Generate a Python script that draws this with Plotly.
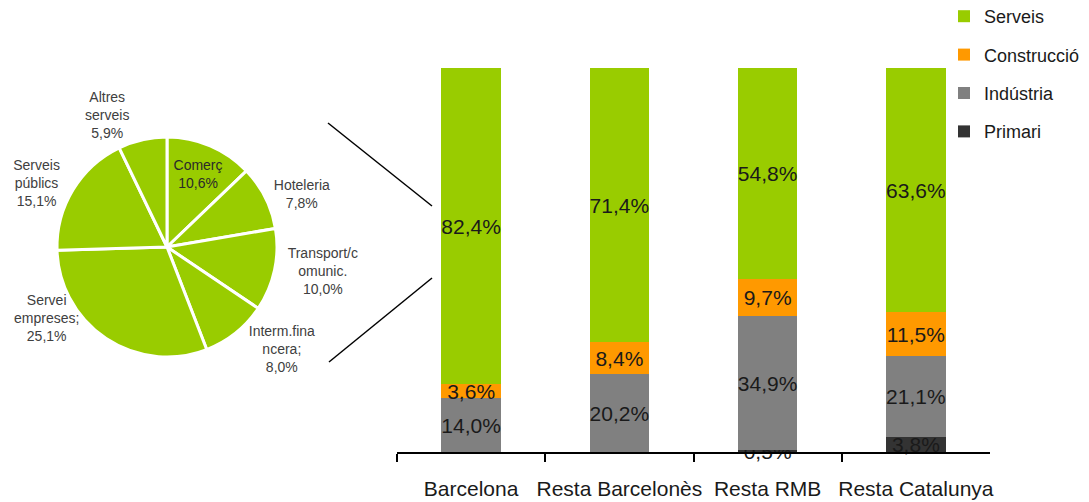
import plotly.graph_objects as go

W, H = 1089, 502
OFF = 8                      # page body margin of the html page
FW, FH = W - OFF, H - OFF    # figure size


def px(x):
    return (x - OFF) / FW


def py(y):
    return 1 - (y - OFF) / FH


# ---- Pie data (composition of services, Barcelona) ----
pie_labels = ["Comerç", "Hoteleria", "Transport/comunicacions", "Intermediació financera",
              "Servei empreses", "Serveis públics", "Altres serveis"]
pie_label_lines = ["Comerç", "Hoteleria", "Transport/c<br>omunic.", "Interm.fina<br>ncera;",
                   "Servei<br>empreses;", "Serveis<br>públics", "Altres<br>serveis"]
pie_values = [10.6, 7.8, 10.0, 8.0, 25.1, 15.1, 5.9]
pie_textpos = ["inside", "outside", "outside", "outside", "none", "outside", "outside"]

# ---- Stacked bar data ----
categories = ["Barcelona", "Resta Barcelonès", "Resta RMB", "Resta Catalunya"]
primari = [0.0, 0.0, 0.5, 3.8]
industria = [14.0, 20.2, 34.9, 21.1]
construccio = [3.6, 8.4, 9.7, 11.5]
serveis = [82.4, 71.4, 54.8, 63.6]

GREEN = "#99CC00"
ORANGE = "#FF9900"
GREY = "#808080"
DARK = "#333333"
FONT = "Liberation Sans, Arial, sans-serif"


def pct(v):
    return (f"{v:.1f}".replace(".", ",") + "%") if v > 0 else ""


pie_text = [f"{l}<br>{pct(v)}" for l, v in zip(pie_label_lines, pie_values)]

fig = go.Figure()

fig.add_trace(go.Pie(
    labels=pie_labels, values=pie_values, text=pie_text, textinfo="text",
    textposition=pie_textpos, sort=False, direction="clockwise", rotation=0,
    marker=dict(colors=[GREEN] * len(pie_values), line=dict(color="white", width=3)),
    textfont=dict(family=FONT, size=14, color="#404040"),
    insidetextfont=dict(family=FONT, size=14, color="#2a2a2a"),
    insidetextorientation="horizontal",
    domain=dict(x=[px(57), px(277)], y=[py(357), py(137)]),
    showlegend=False, hoverinfo="label+percent",
))

series = [("Primari", primari, DARK, 4), ("Indústria", industria, GREY, 3),
          ("Construcció", construccio, ORANGE, 2), ("Serveis", serveis, GREEN, 1)]
for name, vals, col, rank in series:
    fig.add_trace(go.Bar(
        x=categories, y=vals, name=name, marker=dict(color=col, line=dict(width=0)),
        text=[pct(v) for v in vals], textposition="inside", insidetextanchor="middle",
        textangle=0, constraintext="none", cliponaxis=False,
        textfont=dict(family=FONT, size=21, color="#1a1a1a"),
        legendgroup=name, legendrank=rank, width=0.4,
    ))

# label of the "Servei empreses" slice, placed at its spot in the original layout
se = pie_labels.index("Servei empreses")

fig.update_layout(
    width=FW, height=FH, margin=dict(l=0, r=0, t=0, b=0, autoexpand=False),
    paper_bgcolor="white", plot_bgcolor="white",
    barmode="stack", separators=",.",
    font=dict(family=FONT, color="#1a1a1a"),
    xaxis=dict(domain=[px(397), px(990)], showline=True, linecolor="black", linewidth=2,
               ticks="outside", tickson="boundaries", ticklen=8, tickwidth=2, tickcolor="black",
               tickfont=dict(size=21, color="#1a1a1a"), ticklabelstandoff=17, tickangle=0,
               automargin=False, showgrid=False, zeroline=False, fixedrange=True),
    yaxis=dict(domain=[py(452), py(68)], range=[0, 100], visible=False,
               fixedrange=True),
    legend=dict(x=px(984 - 40), xanchor="left", y=py(-2), yanchor="top",
                traceorder="grouped", tracegroupgap=12,
                font=dict(size=18, color="#1a1a1a", family=FONT),
                bgcolor="rgba(0,0,0,0)"),
    annotations=[
        dict(xref="paper", yref="paper", x=px(46), y=py(318), showarrow=False,
             text=pie_text[se], xanchor="center", yanchor="middle",
             font=dict(family=FONT, size=14, color="#404040")),
    ],
    shapes=[
        dict(type="line", xref="paper", yref="paper", x0=px(328), y0=py(123),
             x1=px(432), y1=py(206), line=dict(color="black", width=1.5)),
        dict(type="line", xref="paper", yref="paper", x0=px(329), y0=py(362),
             x1=px(432), y1=py(278), line=dict(color="black", width=1.5)),
    ],
)

fig.write_html("out.html")
